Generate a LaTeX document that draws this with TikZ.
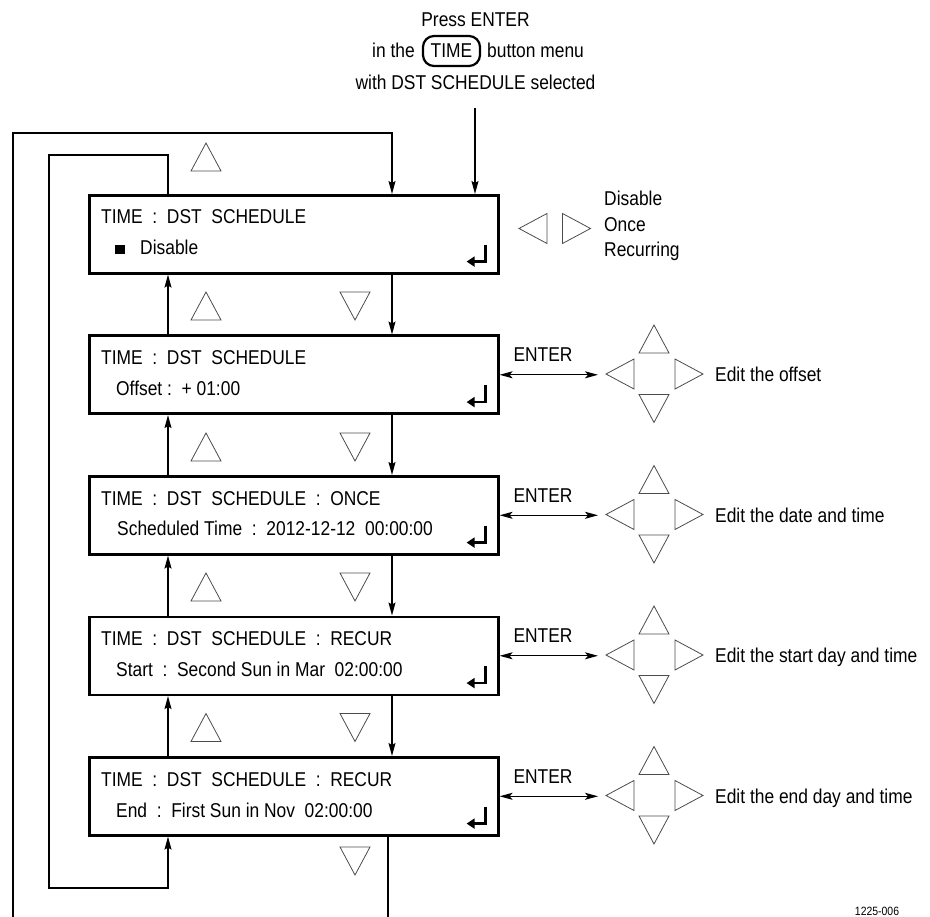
\documentclass[tikz,border=0pt]{standalone}
\usepackage{fontspec}
\setmainfont{Liberation Sans}[FakeStretch=0.87]
\usetikzlibrary{arrows.meta,calc}
\tikzset{
  scrbox/.style={draw, line width=2.6pt, minimum width=409pt, minimum height=78pt, inner sep=0pt, anchor=north west},
  txt/.style={inner sep=0pt, anchor=base west, font=\fontsize{20}{24}\selectfont},
  ctxt/.style={inner sep=0pt, anchor=base, font=\fontsize{20}{24}\selectfont},
  conn/.style={line width=1.3pt, line join=miter},
  arr/.style={conn, -{Stealth[length=13pt,width=7pt,inset=2pt]}},
  darr/.style={conn, {Stealth[length=13pt,width=7pt,inset=3pt]}-{Stealth[length=13pt,width=7pt,inset=3pt]}},
  tri/.style={draw=black!70, line width=0.8pt, line join=miter},
  tup/.pic={\draw[tri] (-15,14) -- (15,14) -- (0,-14) -- cycle;},
  tdown/.pic={\draw[tri] (-15,-14) -- (15,-14) -- (0,14) -- cycle;},
  tleft/.pic={\draw[tri] (14,-15) -- (14,15) -- (-14,0) -- cycle;},
  tright/.pic={\draw[tri] (-14,-15) -- (-14,15) -- (14,0) -- cycle;},
  entsym/.pic={\draw[line width=2.6pt, line join=miter, -{Triangle[length=8pt,width=10pt]}] (-14,-30) -- (-14,-13) -- (-33,-13);},
  cluster/.pic={
    \pic at (0,-34.5) {tup};
    \pic at (0,35) {tdown};
    \pic at (-34,0.5) {tleft};
    \pic at (35,0.5) {tright};
  },
}
\begin{document}
\begin{tikzpicture}[x=1pt,y=-1pt]
\useasboundingbox (0,0) rectangle (930,917);

% top label
\node[ctxt] (l1) at (475.5,27) {Press ENTER};
\node[txt, anchor=base east] (l2a) at (415,58) {in the};
\node[draw, rounded corners=11pt, line width=2.2pt, minimum width=57pt, minimum height=30pt, inner sep=0pt, font=\fontsize{20}{24}\selectfont] (timebtn) at (451.5,51) {TIME};
\node[txt] (l2b) at (487,58) {button menu};
\node[ctxt] (l3) at (475.5,90) {with DST SCHEDULE selected};

% boxes
\node[scrbox] (b1) at (88,194) {};
\node[scrbox] (b2) at (88,334.5) {};
\node[scrbox] (b3) at (88,475) {};
\node[scrbox] (b4) at (88,615.5) {};
\node[scrbox] (b5) at (88,756) {};

% box texts
\node[txt] (t1a) at (101,224) {TIME~~:~~DST~~SCHEDULE};
\fill (115,245) rectangle (124.5,254.5);
\node[txt] (t1b) at (140,255) {Disable};
\node[txt] (t2a) at (101,364.5) {TIME~~:~~DST~~SCHEDULE};
\node[txt] (t2b) at (116,395.5) {Offset~:~~+~01:00};
\node[txt] (t3a) at (101,505) {TIME~~:~~DST~~SCHEDULE~~:~~ONCE};
\node[txt] (t3b) at (117,536) {Scheduled Time~~:~~2012-12-12~~00:00:00};
\node[txt] (t4a) at (101,645.5) {TIME~~:~~DST~~SCHEDULE~~:~~RECUR};
\node[txt] (t4b) at (116,676.5) {Start~~:~~Second Sun in Mar~~02:00:00};
\node[txt] (t5a) at (101,786) {TIME~~:~~DST~~SCHEDULE~~:~~RECUR};
\node[txt] (t5b) at (116,817) {End~~:~~First Sun in Nov~~02:00:00};

% enter symbols
\foreach \b in {b1,b2,b3,b4,b5} {\pic at (\b.south east) {entsym};}

% coordinates for connectors
\coordinate (dn) at (392,0);
\coordinate (upx) at (168,0);
\coordinate (in) at (475,108);
\coordinate (otop) at (13,133);
\coordinate (obot) at (13,917);
\coordinate (oend) at (388,917);
\coordinate (itop) at (49,155);
\coordinate (ibot) at (49,888);
\coordinate (ex) at (598,0);

% entry arrow
\draw[arr] (in) -- (b1.north -| in);

% outer loop
\draw[arr] (obot) -- (otop) -| (b1.north -| dn);
\draw[conn] (b5.south -| oend) -- (oend);

% inner loop
\draw[arr] (b1.north -| upx) |- (itop) -- (ibot) -| (b5.south -| upx);

% between boxes
\draw[arr] (b1.south -| dn) -- (b2.north -| dn);
\draw[arr] (b2.south -| dn) -- (b3.north -| dn);
\draw[arr] (b3.south -| dn) -- (b4.north -| dn);
\draw[arr] (b4.south -| dn) -- (b5.north -| dn);
\draw[arr] (b2.north -| upx) -- (b1.south -| upx);
\draw[arr] (b3.north -| upx) -- (b2.south -| upx);
\draw[arr] (b4.north -| upx) -- (b3.south -| upx);
\draw[arr] (b5.north -| upx) -- (b4.south -| upx);

% vertical triangles
\pic at (206,157) {tup};
\pic at (206,306) {tup};
\pic at (355,306) {tdown};
\pic at (206,447) {tup};
\pic at (355,447) {tdown};
\pic at (206,587) {tup};
\pic at (355,587) {tdown};
\pic at (206,727.5) {tup};
\pic at (355,727.5) {tdown};
\pic at (355,861) {tdown};

% box 1 options
\pic at (533,228.5) {tleft};
\pic at (576.5,228.5) {tright};
\node[txt] (o1) at (604,206) {Disable};
\node[txt] (o2) at (604,232) {Once};
\node[txt] (o3) at (604,257) {Recurring};

% enter arrows and edit clusters
\foreach \b/\m/\lab in {b2/373.5/Edit the offset, b3/514/Edit the date and time, b4/654.5/Edit the start day and time, b5/795/Edit the end day and time} {
  \draw[darr] (\b.east) -- (\b.east -| ex);
  \node[ctxt] at (543,\m-12) {ENTER};
  \pic at (654,\m) {cluster};
  \node[txt] at (715,\m+8) {\lab};
}

\node[inner sep=0pt, anchor=base, font=\fontsize{12}{14}\selectfont] (fig) at (877,915) {1225-006};
\end{tikzpicture}
\end{document}
